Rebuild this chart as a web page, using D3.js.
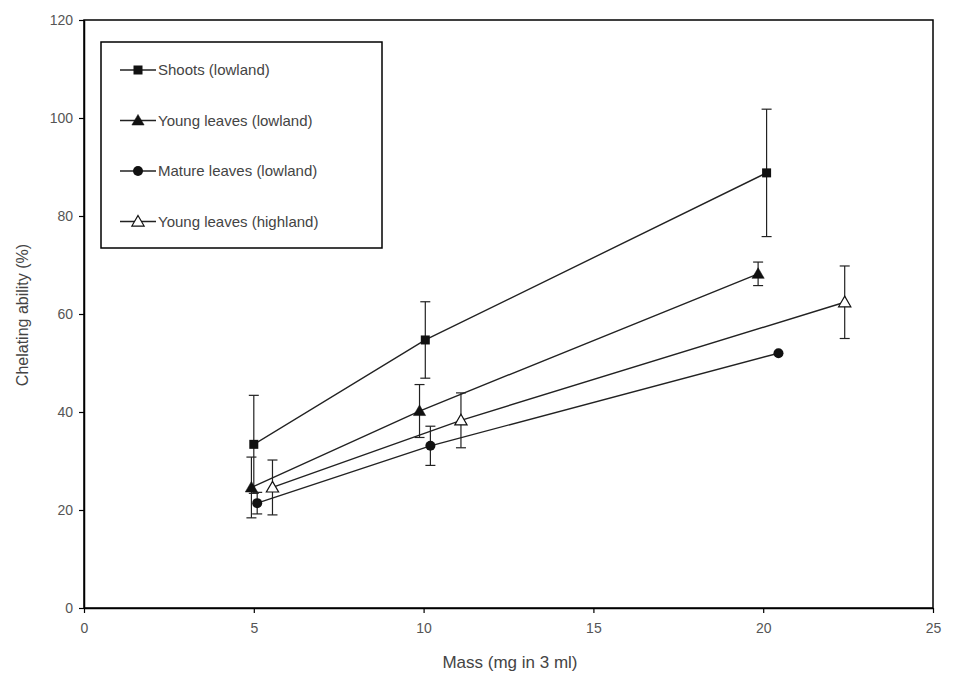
<!DOCTYPE html>
<html>
<head>
<meta charset="utf-8">
<script src="https://cdn.jsdelivr.net/npm/d3@7/dist/d3.min.js"></script>
<style>
body { margin: 0; background: #fff; }
svg { display: block; }
text { font-family: "Liberation Sans Narrow", "Liberation Sans", Arial, sans-serif; }
</style>
</head>
<body>
<svg id="chart" width="956" height="679"></svg>
<script>
const seriesNames = ["Shoots (lowland)", "Young leaves (lowland)", "Mature leaves (lowland)", "Young leaves (highland)"];
const seriesSymbols = ["square", "triangle", "circle", "triangleOpen"];
const shootsX = [5.0, 10.05, 20.1];
const shootsY = [33.4, 54.7, 88.8];
const shootsErr = [10.0, 7.8, 13.0];
const youngLowX = [4.93, 9.88, 19.85];
const youngLowY = [24.6, 40.2, 68.2];
const youngLowErr = [6.2, 5.4, 2.4];
const matureLowX = [5.1, 10.2, 20.45];
const matureLowY = [21.4, 33.1, 52.0];
const matureLowErr = [2.2, 4.0, 0];
const youngHighX = [5.55, 11.1, 22.4];
const youngHighY = [24.6, 38.3, 62.4];
const youngHighErr = [5.6, 5.6, 7.4];
const xTicks = [0, 5, 10, 15, 20, 25];
const yTicks = [0, 20, 40, 60, 80, 100, 120];

const series = [
  {x: shootsX, y: shootsY, e: shootsErr},
  {x: youngLowX, y: youngLowY, e: youngLowErr},
  {x: matureLowX, y: matureLowY, e: matureLowErr},
  {x: youngHighX, y: youngHighY, e: youngHighErr}
].map((s, i) => ({name: seriesNames[i], sym: seriesSymbols[i],
  pts: s.x.map((xv, j) => ({x: xv, y: s.y[j], e: s.e[j]}))}));

const svg = d3.select("#chart");
const mLeft = 84, mRight = 933, mTop = 20, mBottom = 608;
const x = d3.scaleLinear().domain([0, 25]).range([mLeft, mRight]);
const y = d3.scaleLinear().domain([0, 120]).range([mBottom, mTop]);

svg.append("rect").attr("x", mLeft).attr("y", mTop).attr("width", mRight - mLeft).attr("height", mBottom - mTop)
  .attr("fill", "none").attr("stroke", "#000").attr("stroke-width", 1.5);

const xAxis = svg.append("g").attr("transform", `translate(0,${mBottom})`)
  .call(d3.axisBottom(x).tickValues(xTicks).tickSize(5).tickPadding(10).tickSizeOuter(0));
const yAxis = svg.append("g").attr("transform", `translate(${mLeft},0)`)
  .call(d3.axisLeft(y).tickValues(yTicks).tickSize(5).tickPadding(6).tickSizeOuter(0));
[xAxis, yAxis].forEach(g => {
  g.select(".domain").attr("stroke", "#000").attr("stroke-width", 1.5);
  g.selectAll(".tick line").attr("stroke", "#000").attr("stroke-width", 1.2);
  g.selectAll(".tick text").attr("fill", "#555").style("font-size", "14px")
    .style("font-family", '"Liberation Sans Narrow", "Liberation Sans", Arial, sans-serif');
});

svg.append("text").attr("x", 510).attr("y", 668).attr("text-anchor", "middle")
  .attr("fill", "#444").style("font-size", "17px").text("Mass (mg in 3 ml)");
svg.append("text").attr("transform", `translate(28,315) rotate(-90)`).attr("text-anchor", "middle")
  .attr("fill", "#444").style("font-size", "16px").text("Chelating ability (%)");

function drawSymbol(g, sym, cx, cy) {
  if (sym === "square") {
    g.append("rect").attr("x", cx - 4.5).attr("y", cy - 4.5).attr("width", 9).attr("height", 9).attr("fill", "#111");
  } else if (sym === "circle") {
    g.append("circle").attr("cx", cx).attr("cy", cy).attr("r", 5).attr("fill", "#111");
  } else {
    const path = d3.symbol().type(d3.symbolTriangle).size(65)();
    g.append("path").attr("d", path).attr("transform", `translate(${cx},${cy + 1})`)
      .attr("fill", sym === "triangle" ? "#111" : "#fff").attr("stroke", "#111").attr("stroke-width", sym === "triangle" ? 0.5 : 1.2);
  }
}

const line = d3.line().x(d => x(d.x)).y(d => y(d.y));
series.forEach(s => {
  const g = svg.append("g");
  s.pts.forEach(p => {
    if (p.e > 0) {
      g.append("line").attr("x1", x(p.x)).attr("x2", x(p.x)).attr("y1", y(p.y - p.e)).attr("y2", y(p.y + p.e))
        .attr("stroke", "#222").attr("stroke-width", 1.2);
      [p.y - p.e, p.y + p.e].forEach(v => g.append("line").attr("x1", x(p.x) - 5).attr("x2", x(p.x) + 5)
        .attr("y1", y(v)).attr("y2", y(v)).attr("stroke", "#222").attr("stroke-width", 1.2));
    }
  });
  g.append("path").datum(s.pts).attr("d", line).attr("fill", "none").attr("stroke", "#222").attr("stroke-width", 1.4);
  s.pts.forEach(p => drawSymbol(g, s.sym, x(p.x), y(p.y)));
});

const lg = svg.append("g");
lg.append("rect").attr("x", 101).attr("y", 42).attr("width", 281).attr("height", 206)
  .attr("fill", "#fff").attr("stroke", "#000").attr("stroke-width", 1.5);
series.forEach((s, i) => {
  const ly = 70 + i * 50.5;
  lg.append("line").attr("x1", 120).attr("x2", 156).attr("y1", ly).attr("y2", ly).attr("stroke", "#222").attr("stroke-width", 1.4);
  drawSymbol(lg, s.sym, 138, ly);
  lg.append("text").attr("x", 158).attr("y", ly + 5).attr("fill", "#444").style("font-size", "15px").text(s.name);
});
</script>
</body>
</html>
